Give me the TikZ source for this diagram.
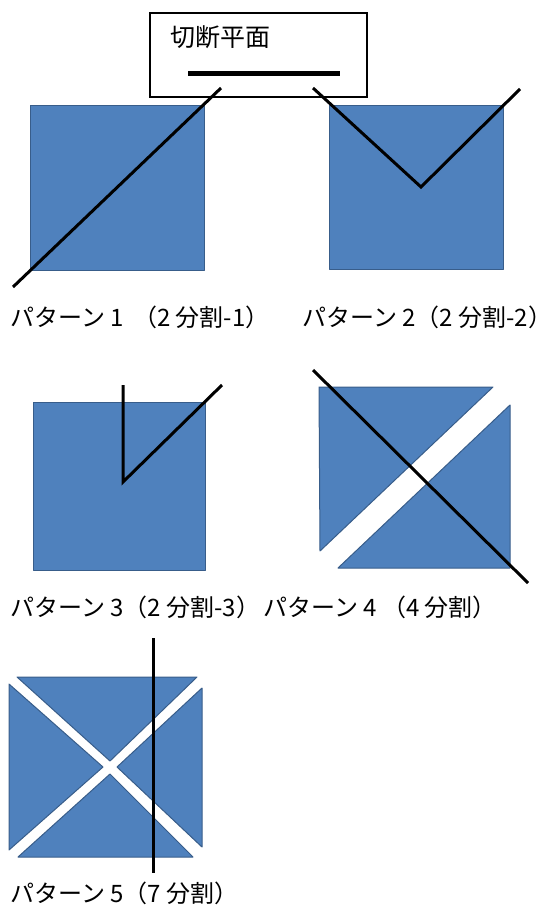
\documentclass[tikz,border=0pt]{standalone}
\usepackage{fontspec}
\newfontfamily\jp{Noto Sans CJK JP}
\definecolor{fillblue}{HTML}{4F81BD}
\definecolor{edgeblue}{HTML}{385D8A}
\tikzset{
  piece/.style={fill=fillblue, draw=edgeblue, line width=1pt, line join=round},
  cutline/.style={line width=3pt, black, line join=miter},
  lbl/.style={anchor=west, inner sep=0pt, font=\jp\fontsize{24}{24}\selectfont},
  legendbox/.style={draw, line width=1.5pt, inner sep=0pt, minimum width=217pt, minimum height=84pt}
}
\begin{document}
\begin{tikzpicture}[x=1pt, y=-1pt]
\useasboundingbox (0,0) rectangle (557,910);

% legend box
\node[legendbox] (legend) at (258.5,55) {};
\node[anchor=center, inner sep=0pt, font=\jp\fontsize{25}{25}\selectfont] (title) at (220,37) {切断平面};
\coordinate (la) at (188,73);
\coordinate (lb) at (340,73);
\draw[line width=5pt] (la) -- (lb);

% pattern 1
\draw[piece] (30,105) rectangle (204,270);
\coordinate (p1a) at (221,88);
\coordinate (p1b) at (13,287);
\draw[cutline] (p1a) -- (p1b);
\node[lbl] (l1) at (10,317) {パターン 1 \,（2 分割-1）};

% pattern 2
\draw[piece] (329,105) rectangle (503,269);
\coordinate (p2a) at (313,88);
\coordinate (p2v) at (421,187);
\coordinate (p2b) at (520,89);
\draw[cutline] (p2a) -- (p2v) -- (p2b);
\node[lbl] (l2) at (302,317) {パターン 2（2 分割-2）};

% pattern 3
\draw[piece] (33,402) rectangle (205,570);
\coordinate (p3a) at (123,385);
\coordinate (p3v) at (123,482);
\coordinate (p3b) at (222,385);
\draw[cutline] (p3a) -- (p3v) -- (p3b);
\node[lbl] (l3) at (10,607) {パターン 3（2 分割-3）};

% pattern 4
\draw[piece] (319,387) -- (493,387) -- (320,551) -- cycle;
\draw[piece] (510,405) -- (510,568) -- (338,568) -- cycle;
\coordinate (p4a) at (313,370);
\coordinate (p4b) at (528,583);
\draw[cutline] (p4a) -- (p4b);
\node[lbl] (l4) at (263,607) {パターン 4 （4 分割）};

% pattern 5
\draw[piece] (17,677) -- (197,677) -- (110,761) -- cycle;
\draw[piece] (9,684) -- (9,850) -- (103,767) -- cycle;
\draw[piece] (202,688) -- (202,847) -- (117,767) -- cycle;
\draw[piece] (18,857) -- (193,857) -- (110,774) -- cycle;
\coordinate (p5a) at (153,638);
\coordinate (p5b) at (153,873);
\draw[cutline] (p5a) -- (p5b);
\node[lbl] (l5) at (10,893) {パターン 5（7 分割）};
\end{tikzpicture}
\end{document}
